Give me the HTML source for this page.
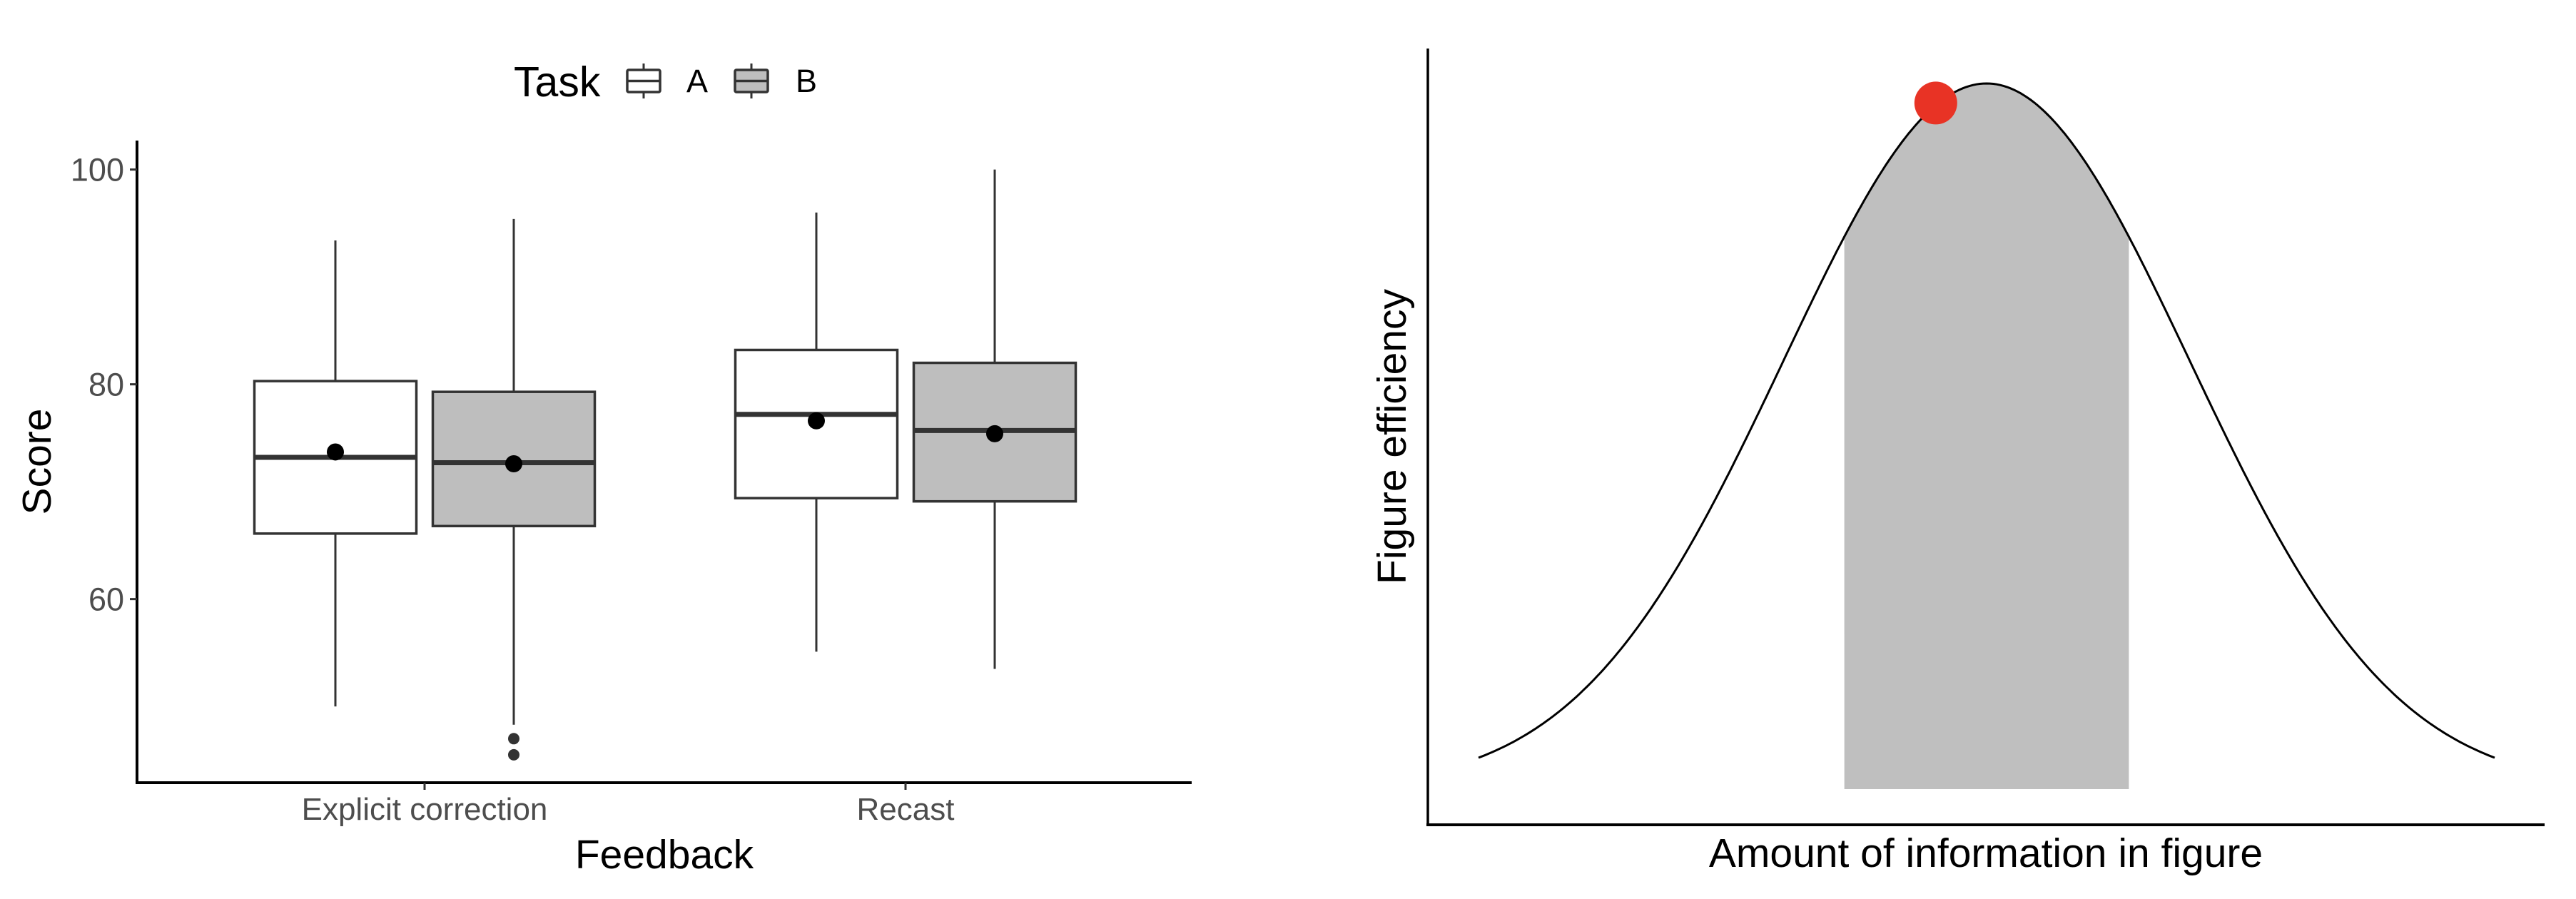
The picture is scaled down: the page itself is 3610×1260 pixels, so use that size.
<!DOCTYPE html>
<html><head><meta charset="utf-8"><style>
html,body{margin:0;padding:0;background:#fff;}
svg{display:block;font-family:"Liberation Sans",Arial,sans-serif;}
</style></head><body>
<svg id="chart" width="3610" height="1260" viewBox="0 0 3610 1260" xmlns="http://www.w3.org/2000/svg">
<g id="left"></g>
<g id="right"></g>
</svg>
<script>
// ---- Left chart data ----
const categories = ["Explicit correction", "Recast"];
const tasks = ["A", "B"];
const taskFill = ["#ffffff", "#bebebe"];
const q1Values = [[66.1, 66.8], [69.4, 69.1]];
const medianValues = [[73.2, 72.7], [77.2, 75.7]];
const q3Values = [[80.3, 79.3], [83.2, 82.0]];
const whiskerLow = [[50.0, 48.3], [55.1, 53.5]];
const whiskerHigh = [[93.4, 95.4], [96.0, 100.0]];
const meanValues = [[73.7, 72.6], [76.6, 75.4]];
const outlierValues = [[[], [47.0, 45.5]], [[], []]];
const yTicks = [60, 80, 100];
// ---- Right chart data ----
const curveRange = [-2.5, 2.5];
const bandRange = [-0.7, 0.7];
const highlightX = [-0.25];

const NS = "http://www.w3.org/2000/svg";
function mk(parent, tag, attrs, text) {
  const e = document.createElementNS(NS, tag);
  for (const k in attrs) e.setAttribute(k, attrs[k]);
  if (text !== undefined) e.textContent = text;
  parent.appendChild(e);
  return e;
}

// ===== Left panel =====
const L = document.getElementById('left');
const lx0 = 192, lx1 = 1670, ly0 = 197, ly1 = 1097;
const yMin = 42.9, yMax = 102.7;
function yS(v) { return ly1 - (v - yMin) / (yMax - yMin) * (ly1 - ly0); }
const catX0 = 595, catStep = 674;
function xCat(i) { return catX0 + i * catStep; }
const dodge = 125, boxW = 227;

categories.forEach((c, i) => {
  tasks.forEach((t, j) => {
    const cx = xCat(i) + (j === 0 ? -dodge : dodge);
    const g = mk(L, 'g', {});
    
    
    mk(g, 'line', {x1: cx, x2: cx, y1: yS(q3Values[i][j]), y2: yS(whiskerHigh[i][j]), stroke: '#333', 'stroke-width': 3});
    mk(g, 'line', {x1: cx, x2: cx, y1: yS(q1Values[i][j]), y2: yS(whiskerLow[i][j]), stroke: '#333', 'stroke-width': 3});
    mk(g, 'rect', {x: cx - boxW / 2, y: yS(q3Values[i][j]), width: boxW, height: yS(q1Values[i][j]) - yS(q3Values[i][j]), fill: taskFill[j], stroke: '#333', 'stroke-width': 3.5});
    mk(g, 'line', {x1: cx - boxW / 2, x2: cx + boxW / 2, y1: yS(medianValues[i][j]), y2: yS(medianValues[i][j]), stroke: '#333', 'stroke-width': 7});
    outlierValues[i][j].forEach(v => {
      const o = mk(g, 'circle', {cx: cx, cy: yS(v), r: 8, fill: '#333'});
      
      
    });
    const m = mk(g, 'circle', {cx: cx, cy: yS(meanValues[i][j]), r: 12, fill: '#000'});
    
    
  });
});

// axes
const yAx = mk(L, 'line', {x1: lx0, x2: lx0, y1: ly0, y2: ly1 + 2, stroke: '#000', 'stroke-width': 4});
 
const xAx = mk(L, 'line', {x1: lx0 - 2, x2: lx1, y1: ly1, y2: ly1, stroke: '#000', 'stroke-width': 4});
 
yTicks.forEach(v => {
  mk(L, 'line', {x1: lx0 - 10, x2: lx0, y1: yS(v), y2: yS(v), stroke: '#333', 'stroke-width': 3});
  const t = mk(L, 'text', {x: lx0 - 18, y: yS(v) + 16, 'text-anchor': 'end', 'font-size': 45, fill: '#4d4d4d'}, String(v));
  
  
});
categories.forEach((c, i) => {
  mk(L, 'line', {x1: xCat(i), x2: xCat(i), y1: ly1, y2: ly1 + 10, stroke: '#333', 'stroke-width': 3});
  const t = mk(L, 'text', {x: xCat(i), y: 1149, 'text-anchor': 'middle', 'font-size': 44, fill: '#4d4d4d'}, c);
  
  
});
const xt = mk(L, 'text', {x: (lx0 + lx1) / 2, y: 1217, 'text-anchor': 'middle', 'font-size': 57, fill: '#000'}, 'Feedback');
 
const yt = mk(L, 'text', {x: 0, y: 0, transform: 'translate(71,647) rotate(-90)', 'text-anchor': 'middle', 'font-size': 57, fill: '#000'}, 'Score');
 

// legend
const lg = mk(L, 'g', {});
 
mk(lg, 'text', {x: 720, y: 135, 'font-size': 59, fill: '#000'}, 'Task');
const keyX = [879, 1030], labX = [962, 1115];
tasks.forEach((t, j) => {
  const k = mk(lg, 'g', {});
  
  
  const kx = keyX[j];
  mk(k, 'line', {x1: kx + 23, x2: kx + 23, y1: 89, y2: 138, stroke: '#333', 'stroke-width': 3});
  mk(k, 'rect', {x: kx, y: 98, width: 46, height: 31, rx: 2, fill: taskFill[j], stroke: '#333', 'stroke-width': 3.5});
  mk(k, 'line', {x1: kx, x2: kx + 46, y1: 113.5, y2: 113.5, stroke: '#333', 'stroke-width': 3.5});
  mk(k, 'text', {x: labX[j], y: 129, 'font-size': 45, fill: '#000'}, t);
});

// ===== Right panel =====
const R = document.getElementById('right');
const rx0 = 2001, rx1 = 3566, ry0 = 68, ry1 = 1156;
const cxMin = 2072, cxMax = 3496;
function xR(v) { return cxMin + (v - curveRange[0]) / (curveRange[1] - curveRange[0]) * (cxMax - cxMin); }
function dens(x) { return Math.exp(-x * x / 2) / Math.sqrt(2 * Math.PI); }
const dTop = dens(0), dEnd = dens(curveRange[1]);
const yTopPx = 117, yEndPx = 1062;
function yR(d) { return yEndPx - (d - dEnd) / (dTop - dEnd) * (yEndPx - yTopPx); }
const bandBottom = 1106;

// band
let bp = `M${xR(bandRange[0])},${bandBottom}`;
for (let k = 0; k <= 100; k++) {
  const x = bandRange[0] + (bandRange[1] - bandRange[0]) * k / 100;
  bp += ` L${xR(x).toFixed(1)},${yR(dens(x)).toFixed(1)}`;
}
bp += ` L${xR(bandRange[1])},${bandBottom} Z`;
const band = mk(R, 'path', {d: bp, fill: '#bfbfbf'});
 

// curve
let cp = '';
for (let k = 0; k <= 300; k++) {
  const x = curveRange[0] + (curveRange[1] - curveRange[0]) * k / 300;
  cp += (k ? ' L' : 'M') + xR(x).toFixed(1) + ',' + yR(dens(x)).toFixed(1);
}
const curve = mk(R, 'path', {d: cp, fill: 'none', stroke: '#000', 'stroke-width': 3});
 

highlightX.forEach(x => {
  const dot = mk(R, 'circle', {cx: xR(x), cy: yR(dens(x)) - 3, r: 30, fill: '#e83325'});
  
  
});

const ry = mk(R, 'line', {x1: rx0, x2: rx0, y1: ry0, y2: ry1 + 2, stroke: '#000', 'stroke-width': 3.5});
 
const rxa = mk(R, 'line', {x1: rx0 - 2, x2: rx1, y1: ry1, y2: ry1, stroke: '#000', 'stroke-width': 4});
 
const rxt = mk(R, 'text', {x: 2783, y: 1215, 'text-anchor': 'middle', 'font-size': 57, fill: '#000'}, 'Amount of information in figure');
 
const ryt = mk(R, 'text', {x: 0, y: 0, transform: 'translate(1970,612) rotate(-90)', 'text-anchor': 'middle', 'font-size': 57, fill: '#000'}, 'Figure efficiency');
 
</script>
</body></html>
